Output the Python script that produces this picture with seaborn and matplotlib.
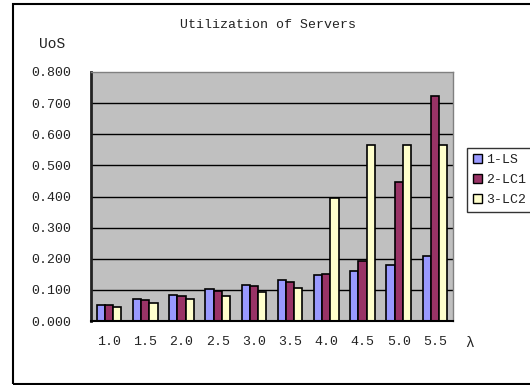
import matplotlib
matplotlib.use("Agg")
import matplotlib.pyplot as plt
from matplotlib.patches import Rectangle, Patch
import seaborn as sns
import pandas as pd

# Arrival rates and server utilization per scheme
lambdas = ["1.0", "1.5", "2.0", "2.5", "3.0", "3.5", "4.0", "4.5", "5.0", "5.5"]
ls_util = [0.053, 0.070, 0.084, 0.102, 0.116, 0.133, 0.147, 0.161, 0.179, 0.209]
lc1_util = [0.053, 0.067, 0.081, 0.095, 0.111, 0.125, 0.152, 0.193, 0.447, 0.724]
lc2_util = [0.044, 0.057, 0.070, 0.080, 0.094, 0.107, 0.394, 0.566, 0.566, 0.566]
series_names = ["1-LS", "2-LC1", "3-LC2"]
y_ticks = [0.0, 0.1, 0.2, 0.3, 0.4, 0.5, 0.6, 0.7, 0.8]

colors = ["#9999FF", "#993366", "#FFFFCC"]

df = pd.DataFrame({
    "lambda": lambdas * 3,
    "util": ls_util + lc1_util + lc2_util,
    "series": [s for s in series_names for _ in lambdas],
})

sns.set_theme(style="white")
FONT = ["Liberation Mono", "DejaVu Sans Mono"]
plt.rcParams["font.family"] = FONT
TXT = "#222222"

fig = plt.figure(figsize=(5.3, 3.85), dpi=100)
fig.patch.set_facecolor("white")
ax = fig.add_axes([91 / 530, 64 / 385, 362 / 530, 249 / 385])
ax.set_facecolor("#C0C0C0")

sns.barplot(data=df, x="lambda", y="util", hue="series", order=lambdas,
            hue_order=series_names, palette=colors, width=0.68,
            edgecolor="black", linewidth=1.2, saturation=1, ax=ax,
            legend=False, zorder=3)

ax.set_ylim(0, 0.8)
ax.set_xlim(-0.5, len(lambdas) - 0.5)
ax.set_yticks(y_ticks)
ax.set_yticklabels([f"{v:.3f}" for v in y_ticks], fontsize=9.5, color=TXT)
ax.set_xticks(range(len(lambdas)))
ax.set_xticklabels(lambdas, fontsize=9.5, color=TXT)
ax.set_xlabel("")
ax.set_ylabel("")

# horizontal gridlines
for v in y_ticks[1:-1]:
    ax.axhline(v, color="black", lw=1.0, zorder=1)

# category boundary ticks on the x axis
ax.set_xticks([i - 0.5 for i in range(len(lambdas) + 1)], minor=True)
ax.tick_params(axis="x", which="major", length=0, pad=11)
ax.tick_params(axis="x", which="minor", length=4, width=1, color="black",
               direction="inout")
ax.tick_params(axis="y", which="major", length=3, width=1, color="black",
               direction="out", pad=11.5)

for side in ("top", "right"):
    ax.spines[side].set_color("#808080")
    ax.spines[side].set_linewidth(1.0)
ax.spines["left"].set_color("#222222")
ax.spines["left"].set_linewidth(2.0)
ax.spines["bottom"].set_color("black")
ax.spines["bottom"].set_linewidth(1.5)
for sp in ax.spines.values():
    sp.set_zorder(4)

fig.text(268 / 530, 1 - 25 / 385, "Utilization of Servers", ha="center",
         va="center", fontsize=9.5, color=TXT, family=FONT)
fig.text(52 / 530, 1 - 44 / 385, "UoS", ha="center", va="center",
         fontsize=10.5, color=TXT, family=FONT)
fig.text(470 / 530, 1 - 343 / 385, "λ", ha="center", va="center",
         fontsize=10.5, color=TXT, family=FONT)

handles = [Patch(facecolor=c, edgecolor="black", linewidth=1.0) for c in colors]
leg = fig.legend(handles, series_names, loc="upper left",
                 bbox_to_anchor=(467 / 530, 1 - 148 / 385),
                 bbox_transform=fig.transFigure, fontsize=9.5, frameon=True,
                 fancybox=False, edgecolor="black", handlelength=0.7,
                 handleheight=0.7, handletextpad=0.3, labelspacing=0.6,
                 borderpad=0.45, borderaxespad=0)
leg.get_frame().set_linewidth(1.0)
for t in leg.get_texts():
    t.set_color(TXT)

# outer chart frame
fig.patches.append(Rectangle((12.5 / 530, 1.5 / 385), 1.2, (385 - 5) / 385,
                             transform=fig.transFigure, fill=False,
                             edgecolor="black", lw=1.5, zorder=0))

fig.savefig("out.png", dpi=100)
